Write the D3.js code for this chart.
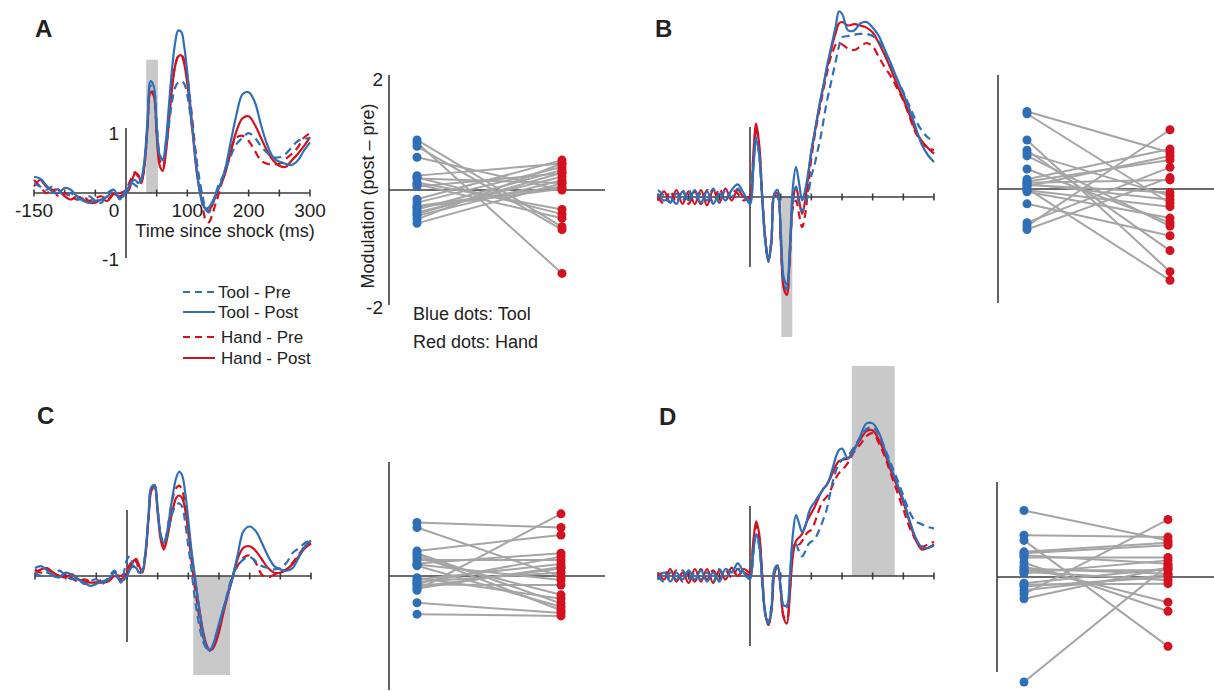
<!DOCTYPE html>
<html>
<head>
<meta charset="utf-8">
<script src="https://cdn.jsdelivr.net/npm/d3@7"></script>
<style>
  body { margin: 0; background: #fff; }
  svg { display: block; }
  text { font-family: Arial, "Liberation Sans", sans-serif; fill: #222; }
</style>
</head>
<body>
<svg id="fig" width="1214" height="691"></svg>
<script>
// time base shared by all waveforms (ms since shock)
var times = [-150,-140,-130,-120,-110,-100,-90,-80,-70,-60,-50,-40,-30,-20,-10,
  0,5,10,15,20,25,30,35,40,45,50,55,60,65,70,75,80,85,90,95,100,105,110,115,120,125,130,135,140,145,150,
  160,170,180,190,200,210,220,230,240,250,260,270,280,290,300];

// Panel A waveforms
var toolPostA = [0.25,0.22,0.12,0.02,0.00,0.08,0.05,-0.05,-0.12,-0.15,-0.12,-0.10,-0.05,0.05,-0.08,
  0.00,0.10,0.18,0.20,0.15,0.22,0.50,1.10,1.72,1.65,1.05,0.58,0.52,0.80,1.35,1.90,2.30,2.50,2.48,2.25,1.85,1.35,0.85,0.38,0.03,-0.17,-0.24,-0.22,-0.15,-0.05,0.05,
  0.30,0.75,1.20,1.52,1.55,1.40,1.05,0.75,0.55,0.48,0.45,0.43,0.50,0.65,0.78];
var handPostA = [0.10,0.20,0.10,0.05,0.05,-0.05,-0.10,-0.05,-0.10,-0.15,-0.15,-0.10,-0.12,-0.02,-0.05,
  0.00,0.05,0.20,0.30,0.28,0.15,0.40,1.00,1.55,1.50,0.90,0.42,0.34,0.62,1.10,1.60,1.95,2.10,2.12,1.98,1.68,1.25,0.80,0.35,0.05,-0.15,-0.25,-0.27,-0.20,-0.08,0.05,
  0.25,0.60,0.95,1.15,1.18,1.05,0.85,0.65,0.50,0.42,0.40,0.50,0.60,0.72,0.86];
var toolPreA = [0.15,0.10,0.05,0.10,0.05,-0.05,0.00,-0.10,-0.08,-0.05,-0.12,-0.15,0.00,0.05,-0.10,
  0.05,0.10,0.15,0.12,0.10,0.20,0.45,1.05,1.65,1.60,1.05,0.60,0.50,0.70,1.05,1.40,1.62,1.70,1.72,1.68,1.50,1.20,0.85,0.50,0.20,-0.05,-0.25,-0.30,-0.20,-0.05,0.10,
  0.30,0.55,0.75,0.85,0.92,0.85,0.72,0.62,0.55,0.55,0.60,0.70,0.80,0.83,0.85];
var handPreA = [0.20,0.10,0.00,0.05,-0.05,0.00,-0.05,-0.10,-0.05,-0.12,-0.08,-0.05,-0.10,0.00,0.00,
  0.05,0.15,0.25,0.32,0.25,0.20,0.42,1.00,1.58,1.52,0.95,0.50,0.40,0.65,1.15,1.65,1.95,2.10,2.12,2.05,1.80,1.40,0.95,0.50,0.10,-0.20,-0.42,-0.45,-0.35,-0.20,-0.05,
  0.30,0.65,0.85,0.88,0.80,0.65,0.50,0.45,0.44,0.45,0.52,0.60,0.70,0.85,0.92];

// Panel B waveforms
var toolPostB = [0.05,-0.05,0.00,-0.10,0.08,-0.05,0.10,-0.08,0.08,-0.10,0.05,-0.05,0.10,0.18,0.05,
  -0.10,0.35,0.82,0.60,-0.05,-0.65,-0.92,-0.60,0.05,0.10,-0.45,-1.15,-1.25,-0.70,0.15,0.43,0.20,-0.05,0.10,0.35,0.65,0.90,1.15,1.40,1.60,1.85,2.05,2.25,2.45,2.65,2.62,
  2.38,2.38,2.48,2.50,2.42,2.30,2.10,1.90,1.68,1.48,1.25,1.00,0.75,0.60,0.50];
var handPostB = [-0.05,0.08,-0.08,0.10,-0.10,0.08,-0.10,0.10,-0.12,0.10,-0.08,0.12,-0.05,0.10,0.00,
  0.00,0.55,1.05,0.75,0.00,-0.60,-0.93,-0.65,0.05,0.05,-0.60,-1.30,-1.40,-0.80,-0.05,0.14,-0.05,-0.24,-0.05,0.30,0.65,0.90,1.15,1.38,1.60,1.82,2.02,2.20,2.35,2.48,2.50,
  2.45,2.47,2.45,2.42,2.35,2.20,2.02,1.82,1.60,1.40,1.18,0.95,0.80,0.70,0.62];
var toolPreB = [0.10,0.02,-0.08,0.05,-0.05,0.10,-0.05,0.05,-0.05,0.12,-0.08,0.10,0.00,0.12,0.00,
  -0.05,0.40,0.85,0.60,-0.05,-0.62,-0.90,-0.62,0.00,0.00,-0.55,-1.20,-1.32,-0.80,-0.05,0.15,-0.10,-0.20,-0.10,0.05,0.30,0.45,0.65,0.85,1.10,1.35,1.55,1.75,1.95,2.15,2.28,
  2.30,2.32,2.33,2.33,2.30,2.22,2.08,1.88,1.68,1.50,1.30,1.10,0.95,0.85,0.79];
var handPreB = [0.00,-0.10,0.08,-0.08,0.10,-0.10,0.08,-0.10,0.10,-0.08,0.12,-0.05,0.10,0.05,-0.05,
  0.05,0.50,0.98,0.70,0.00,-0.60,-0.90,-0.62,0.02,0.00,-0.60,-1.28,-1.38,-0.85,-0.15,-0.05,-0.25,-0.43,-0.25,0.15,0.55,0.85,1.10,1.32,1.55,1.75,1.95,2.08,2.18,2.20,2.18,
  2.12,2.10,2.15,2.20,2.15,2.00,1.85,1.72,1.55,1.38,1.15,0.92,0.78,0.70,0.67];

// Panel C waveforms
var toolPostC = [0.12,0.15,0.08,0.00,-0.02,0.05,0.02,-0.05,-0.10,-0.15,-0.12,-0.08,-0.05,0.05,-0.08,
  0.00,0.10,0.15,0.12,0.05,0.08,0.35,0.90,1.35,1.35,1.00,0.62,0.50,0.65,0.95,1.25,1.48,1.58,1.52,1.25,0.85,0.40,0.05,-0.30,-0.65,-0.92,-1.08,-1.13,-1.05,-0.90,-0.72,
  -0.40,-0.10,0.30,0.68,0.75,0.68,0.50,0.30,0.15,0.10,0.08,0.12,0.28,0.45,0.54];
var handPostC = [0.05,0.10,0.12,0.05,0.00,-0.02,0.03,-0.05,-0.08,-0.10,-0.10,-0.10,-0.08,0.00,-0.05,
  0.05,0.12,0.22,0.26,0.15,0.05,0.30,0.85,1.30,1.35,0.95,0.55,0.40,0.55,0.80,1.02,1.18,1.22,1.18,1.00,0.70,0.35,0.00,-0.32,-0.62,-0.88,-1.05,-1.12,-1.10,-1.00,-0.85,
  -0.45,-0.10,0.25,0.43,0.45,0.38,0.25,0.12,0.05,0.05,0.10,0.18,0.30,0.42,0.49];
var toolPreC = [0.05,0.00,0.05,0.02,0.08,0.00,-0.05,-0.05,-0.12,-0.08,-0.05,-0.12,-0.02,0.08,-0.10,
  0.25,0.30,0.15,0.10,0.05,0.10,0.35,0.90,1.35,1.38,1.02,0.62,0.50,0.60,0.80,0.98,1.08,1.10,1.05,0.80,0.45,0.10,-0.30,-0.60,-0.85,-1.02,-1.10,-1.12,-1.05,-0.90,-0.75,
  -0.40,-0.05,0.15,0.25,0.29,0.22,0.15,0.12,0.10,0.12,0.20,0.35,0.42,0.50,0.55];
var handPreC = [0.10,0.05,0.10,0.05,0.00,0.02,-0.03,-0.08,-0.05,-0.08,-0.10,-0.05,-0.05,0.02,0.00,
  0.10,0.18,0.25,0.22,0.10,0.08,0.33,0.88,1.32,1.36,1.00,0.60,0.45,0.65,0.95,1.20,1.33,1.37,1.30,1.05,0.65,0.25,-0.12,-0.45,-0.75,-0.95,-1.08,-1.13,-1.08,-0.95,-0.80,
  -0.42,-0.08,0.15,0.28,0.31,0.20,0.02,-0.02,0.02,0.05,0.10,0.20,0.32,0.45,0.50];

// Panel D waveforms
var toolPostD = [-0.05,0.05,-0.08,0.05,-0.05,0.08,-0.05,0.08,-0.08,0.05,-0.08,0.10,0.05,0.18,0.05,
  -0.05,0.30,0.60,0.45,-0.10,-0.55,-0.68,-0.45,0.10,0.15,-0.15,-0.42,-0.42,0.00,0.60,0.87,0.75,0.63,0.70,0.88,0.99,1.05,1.12,1.18,1.25,1.30,1.40,1.55,1.70,1.80,1.82,
  1.68,1.80,2.00,2.18,2.18,2.05,1.80,1.55,1.32,1.09,0.80,0.55,0.41,0.40,0.44];
var handPostD = [0.05,-0.05,0.10,-0.08,0.05,-0.10,0.10,-0.08,0.10,-0.10,0.08,-0.05,0.12,0.00,0.10,
  0.05,0.45,0.78,0.60,0.00,-0.55,-0.70,-0.50,0.05,0.15,-0.20,-0.60,-0.68,-0.25,0.30,0.50,0.55,0.60,0.72,0.82,0.90,0.98,1.08,1.18,1.25,1.30,1.38,1.48,1.58,1.64,1.66,
  1.68,1.82,1.95,2.07,2.08,1.95,1.75,1.50,1.28,1.05,0.78,0.52,0.38,0.40,0.45];
var toolPreD = [0.00,-0.08,0.05,-0.05,0.08,-0.05,0.05,-0.05,0.05,-0.08,0.10,-0.02,0.08,0.10,0.00,
  0.00,0.30,0.58,0.42,-0.10,-0.52,-0.66,-0.42,0.08,0.12,-0.15,-0.45,-0.45,-0.05,0.40,0.45,0.35,0.28,0.35,0.45,0.49,0.52,0.60,0.70,0.82,0.95,1.15,1.35,1.50,1.60,1.66,
  1.72,1.85,1.98,2.10,2.13,2.02,1.82,1.60,1.38,1.15,0.92,0.78,0.74,0.70,0.68];
var handPreD = [-0.05,0.08,-0.05,0.08,-0.08,0.05,-0.08,0.10,-0.05,0.08,-0.05,0.08,-0.02,0.10,0.05,
  0.02,0.42,0.72,0.55,-0.02,-0.55,-0.70,-0.48,0.05,0.12,-0.18,-0.58,-0.62,-0.20,0.35,0.48,0.45,0.50,0.58,0.63,0.66,0.75,0.88,1.00,1.08,1.13,1.20,1.30,1.40,1.47,1.51,
  1.62,1.78,1.88,2.00,2.04,1.90,1.70,1.45,1.20,0.95,0.70,0.52,0.42,0.45,0.49];

// significance windows: [start ms, end ms, extent]
var shadeA = [33, 52, 2.05];
var shadeB = [51, 69, -2.0];
var shadeC = [108, 168, -1.5];
var shadeD = [166, 236, 3.0];

// per-subject modulation (post - pre), paired by index
var toolModA = [0.87,0.82,0.76,0.57,0.25,0.20,0.13,0.06,-0.16,-0.22,-0.28,-0.34,-0.39,-0.45,-0.51,-0.58,0.22,0.10,-0.30,-0.42];
var handModA = [-0.64,-1.45,-0.69,0.00,0.46,0.12,-0.34,0.29,0.52,0.40,0.06,0.35,0.23,0.17,0.46,0.12,-0.42,-0.49,0.02,0.30];
var toolModB = [1.36,1.32,0.86,0.68,0.63,0.58,0.35,0.17,0.13,0.09,0.05,0.01,-0.02,-0.26,-0.59,-0.65,-0.71,0.07,-0.05,0.11];
var handModB = [0.64,-0.25,-1.45,-1.08,-0.12,-0.65,-0.59,0.70,0.51,-0.19,0.58,-1.60,-0.31,-0.82,0.38,1.04,0.20,-0.06,-0.51,0.16];
var toolModC = [0.94,0.85,0.44,0.37,0.22,0.18,-0.06,-0.13,-0.19,-0.25,-0.47,-0.67,0.32,0.28,-0.10,0.40,0.20,-0.22,-0.15,-0.03];
var handModC = [0.85,-0.01,0.72,-0.60,0.40,-0.54,0.21,0.34,0.13,1.09,-0.65,-0.70,-0.33,0.28,0.06,-0.48,-0.07,0.16,-0.16,-0.40];
var toolModD = [1.40,0.88,0.77,0.53,0.46,0.41,0.22,0.18,0.14,0.11,-0.13,-0.20,-0.28,-0.36,-0.46,-2.21,0.30,0.08,-0.16,0.50];
var handModD = [0.77,0.84,-1.46,0.72,0.28,0.41,-0.53,0.07,0.14,-0.07,0.18,0.00,0.05,1.21,0.20,0.25,-0.72,0.35,-0.14,0.67];

// ticks / labels
var timeTicks = [-150,-100,-50,0,50,100,150,200,250,300];
var timeTickLabels = [-150,0,100,200,300];
var ampTickLabels = [1,-1];
var modTickLabels = [2,-2];
var legendItems = ["Tool - Pre","Tool - Post","Hand - Pre","Hand - Post"];

var blue = "#2f6fb7", red = "#d4111e", grey = "#a5a5a5", axisCol = "#3c3c3c";
var svg = d3.select("#fig");

function drawWave(cfg, s, shade) {
    var x = d3.scaleLinear().domain([-150, 300]).range([cfg.left, cfg.right]);
    var y = d3.scaleLinear().domain([-1, 1]).range([cfg.zero + cfg.unit, cfg.zero - cfg.unit]);
    var g = svg.append("g");

    g.append("rect")
        .attr("x", x(shade[0]))
        .attr("width", x(shade[1]) - x(shade[0]))
        .attr("y", Math.min(y(0), y(shade[2])))
        .attr("height", Math.abs(y(shade[2]) - y(0)))
        .attr("fill", "#c9c9c9");

    g.append("line")
        .attr("x1", x(-150)).attr("x2", x(300))
        .attr("y1", y(0)).attr("y2", y(0))
        .attr("stroke", axisCol).attr("stroke-width", 1.6);
    g.selectAll(".tk").data(timeTicks).enter().append("line")
        .attr("x1", function (d) { return x(d); }).attr("x2", function (d) { return x(d); })
        .attr("y1", y(0) - 3.5).attr("y2", y(0) + 3.5)
        .attr("stroke", axisCol).attr("stroke-width", 1.6);
    g.append("line")
        .attr("x1", x(0)).attr("x2", x(0))
        .attr("y1", y(1)).attr("y2", y(-1))
        .attr("stroke", axisCol).attr("stroke-width", 1.6);

    var line = d3.line()
        .x(function (d, i) { return x(times[i]); })
        .y(function (d) { return y(d); })
        .curve(d3.curveCatmullRom.alpha(0.5));

    [[s[0], red, true], [s[1], red, false], [s[2], blue, true], [s[3], blue, false]].forEach(function (l) {
        g.append("path")
            .attr("d", line(l[0]))
            .attr("fill", "none")
            .attr("stroke", l[1])
            .attr("stroke-width", 2.2)
            .attr("stroke-dasharray", l[2] ? "8,5" : null);
    });
    return { x: x, y: y, g: g };
}

function drawDots(cfg, tool, hand) {
    var x = d3.scalePoint().domain(["Tool", "Hand"]).range([cfg.bx, cfg.rx]);
    var y = d3.scaleLinear().domain([-2, 2]).range([cfg.zero + cfg.half, cfg.zero - cfg.half]);
    var g = svg.append("g");

    g.append("line")
        .attr("x1", cfg.ax).attr("x2", cfg.ax)
        .attr("y1", y(2)).attr("y2", y(-2))
        .attr("stroke", axisCol).attr("stroke-width", 1.6);
    g.append("line")
        .attr("x1", cfg.ax).attr("x2", cfg.end)
        .attr("y1", y(0)).attr("y2", y(0))
        .attr("stroke", axisCol).attr("stroke-width", 1.6);

    g.selectAll(".pair").data(tool).enter().append("line")
        .attr("x1", x("Tool")).attr("x2", x("Hand"))
        .attr("y1", function (d) { return y(d); })
        .attr("y2", function (d, i) { return y(hand[i]); })
        .attr("stroke", grey).attr("stroke-width", 2);

    g.selectAll(".td").data(tool).enter().append("circle")
        .attr("cx", x("Tool")).attr("cy", function (d) { return y(d); })
        .attr("r", 4.5).attr("fill", blue);
    g.selectAll(".hd").data(hand).enter().append("circle")
        .attr("cx", x("Hand")).attr("cy", function (d) { return y(d); })
        .attr("r", 4.5).attr("fill", red);
    return { x: x, y: y, g: g };
}

function panelLabel(t, px, py) {
    svg.append("text").attr("x", px).attr("y", py)
        .attr("font-size", 24).attr("font-weight", "bold").text(t);
}

// ---- A ----
var wA = drawWave({ left: 34, right: 310, zero: 193, unit: 65 }, [handPreA, handPostA, toolPreA, toolPostA], shadeA);
wA.g.selectAll(".tl").data(timeTickLabels).enter().append("text")
    .attr("x", function (d) { return wA.x(d) + (d === 0 ? -12 : 0); })
    .attr("y", 217)
    .attr("text-anchor", "middle")
    .attr("font-size", 19)
    .text(function (d) { return d; });
wA.g.selectAll(".al").data(ampTickLabels).enter().append("text")
    .attr("x", wA.x(0) - 7)
    .attr("y", function (d) { return wA.y(d) + (d > 0 ? 5 : 1); })
    .attr("dy", "0.35em")
    .attr("text-anchor", "end")
    .attr("font-size", 19)
    .text(function (d) { return d; });
wA.g.append("text")
    .attr("x", (wA.x(0) + wA.x(300)) / 2 + 7).attr("y", 237)
    .attr("text-anchor", "middle").attr("font-size", 18)
    .text("Time since shock (ms)");

// legend
var leg = svg.append("g");
leg.selectAll("line").data(legendItems).enter().append("line")
    .attr("x1", 183).attr("x2", 215)
    .attr("y1", function (d, i) { return [292, 312, 337, 358][i]; })
    .attr("y2", function (d, i) { return [292, 312, 337, 358][i]; })
    .attr("stroke", function (d, i) { return i < 2 ? blue : red; })
    .attr("stroke-width", 2)
    .attr("stroke-dasharray", function (d, i) { return i % 2 === 0 ? "7,5" : null; });
leg.selectAll("text").data(legendItems).enter().append("text")
    .attr("x", function (d, i) { return i < 2 ? 218 : 221; })
    .attr("y", function (d, i) { return [292, 312, 337, 358][i]; })
    .attr("dy", "0.35em").attr("font-size", 17)
    .text(function (d) { return d; });

var dA = drawDots({ ax: 389, zero: 190, half: 115, bx: 417, rx: 562, end: 605 }, toolModA, handModA);
dA.g.selectAll(".ml").data(modTickLabels).enter().append("text")
    .attr("x", 383)
    .attr("y", function (d) { return dA.y(d) + (d > 0 ? 4 : 2); })
    .attr("dy", "0.35em").attr("text-anchor", "end").attr("font-size", 19)
    .text(function (d) { return d; });
dA.g.append("text")
    .attr("transform", "translate(368,196) rotate(-90)")
    .attr("dy", "0.35em").attr("text-anchor", "middle").attr("font-size", 18)
    .text("Modulation (post \u2013 pre)");
dA.g.append("text").attr("x", 413).attr("y", 320).attr("font-size", 18).text("Blue dots: Tool");
dA.g.append("text").attr("x", 413).attr("y", 348).attr("font-size", 18).text("Red dots: Hand");

// ---- B ----
drawWave({ left: 658, right: 934, zero: 197, unit: 70 }, [handPreB, handPostB, toolPreB, toolPostB], shadeB);
drawDots({ ax: 998, zero: 189, half: 114, bx: 1027, rx: 1170, end: 1214 }, toolModB, handModB);

// ---- C ----
drawWave({ left: 35, right: 311, zero: 576, unit: 66 }, [handPreC, handPostC, toolPreC, toolPostC], shadeC);
drawDots({ ax: 389, zero: 576, half: 114, bx: 417, rx: 561, end: 605 }, toolModC, handModC);

// ---- D ----
drawWave({ left: 658, right: 934, zero: 576, unit: 70 }, [handPreD, handPostD, toolPreD, toolPostD], shadeD);
drawDots({ ax: 997, zero: 577, half: 95, bx: 1024, rx: 1168, end: 1214 }, toolModD, handModD);

panelLabel("A", 35, 37);
panelLabel("B", 655, 37);
panelLabel("C", 37, 424);
panelLabel("D", 659, 425);
</script>
</body>
</html>
